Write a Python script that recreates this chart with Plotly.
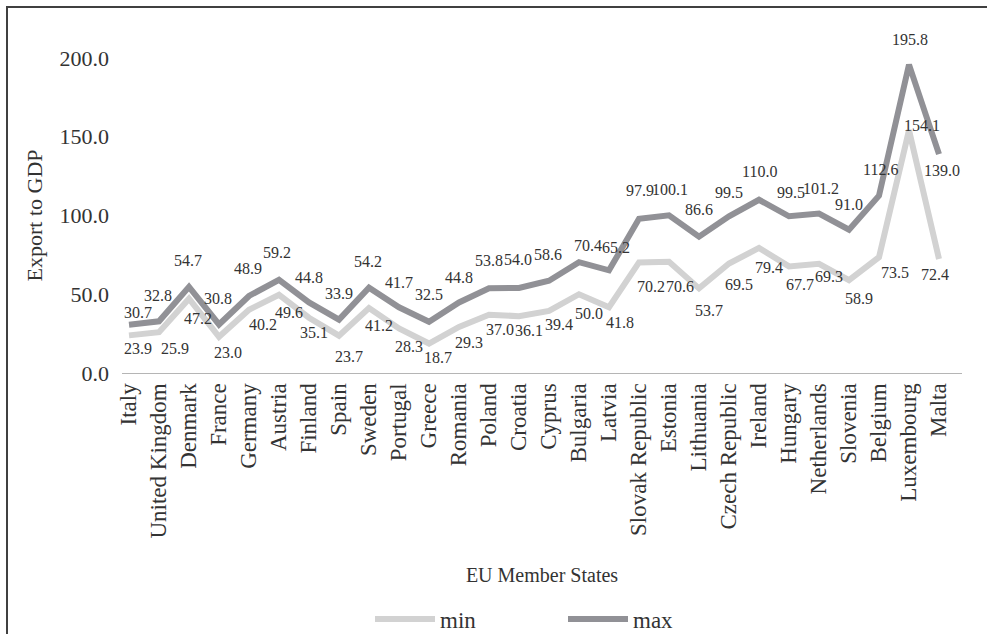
import plotly.graph_objects as go

countries = ["Italy", "United Kingdom", "Denmark", "France", "Germany", "Austria",
             "Finland", "Spain", "Sweden", "Portugal", "Greece", "Romania", "Poland",
             "Croatia", "Cyprus", "Bulgaria", "Latvia", "Slovak Republic", "Estonia",
             "Lithuania", "Czech Republic", "Ireland", "Hungary", "Netherlands",
             "Slovenia", "Belgium", "Luxembourg", "Malta"]
min_vals = [23.9, 25.9, 47.2, 23.0, 40.2, 49.6, 35.1, 23.7, 41.2, 28.3, 18.7, 29.3, 37.0,
            36.1, 39.4, 50.0, 41.8, 70.2, 70.6, 53.7, 69.5, 79.4, 67.7, 69.3, 58.9, 73.5,
            154.1, 72.4]
max_vals = [30.7, 32.8, 54.7, 30.8, 48.9, 59.2, 44.8, 33.9, 54.2, 41.7, 32.5, 44.8, 53.8,
            54.0, 58.6, 70.4, 65.2, 97.9, 100.1, 86.6, 99.5, 110.0, 99.5, 101.2, 91.0, 112.6,
            195.8, 139.0]
y_ticks = [0, 50, 100, 150, 200]

# label offsets in pixels (dx right, dy down) - styling only
min_off = [(9, 13), (16, 16), (9, 20), (9, 16), (14, 15), (10, 18), (5, 15), (10, 21),
           (10, 17), (10, 18), (9, 14), (10, 16), (11, 15), (10, 14), (10, 14), (10, 19),
           (11, 15), (12, 24), (11, 25), (10, 22), (10, 21), (10, 20), (11, 18), (10, 13),
           (10, 18), (16, 15), (13, -5), (-4, 16)]
max_off = [(9, -12), (-1, -26), (-1, -26), (-1, -26), (-1, -27), (-2, -27), (0, -25),
           (0, -26), (-1, -26), (0, -25), (0, -27), (0, -25), (0, -28), (-1, -28), (-1, -26),
           (9, -17), (7, -23), (1, -28), (1, -26), (0, -27), (0, -24), (0, -28), (2, -24),
           (2, -25), (0, -25), (1, -26), (1, -25), (3, 16)]

FONT = "Liberation Serif, Times New Roman, serif"
TXT = "#333333"
MIN_C = "#d2d2d2"
MAX_C = "#919196"

fig = go.Figure()
fig.add_trace(go.Scatter(x=countries, y=min_vals, name="min", mode="lines",
                         line=dict(color=MIN_C, width=6), cliponaxis=False))
fig.add_trace(go.Scatter(x=countries, y=max_vals, name="max", mode="lines",
                         line=dict(color=MAX_C, width=6), cliponaxis=False))

annots = []
for vals, offs in ((min_vals, min_off), (max_vals, max_off)):
    for c, v, (dx, dy) in zip(countries, vals, offs):
        annots.append(dict(x=c, y=v, text=f"{v:.1f}", showarrow=False,
                           xshift=dx, yshift=-dy,
                           font=dict(family=FONT, size=16, color=TXT)))

fig.update_layout(
    width=987, height=634, autosize=False,
    margin=dict(l=122, r=25, t=58, b=261, autoexpand=False),
    paper_bgcolor="white", plot_bgcolor="white",
    font=dict(family=FONT, color=TXT),
    annotations=annots,
    showlegend=True,
    legend=dict(orientation="h", x=(370 - 122) / 840, xanchor="left",
                y=(373 - 619) / 315, yanchor="middle",
                font=dict(family=FONT, size=23, color=TXT),
                itemwidth=60, entrywidth=118, bgcolor="rgba(0,0,0,0)"),
    xaxis=dict(type="category", showgrid=False, zeroline=False,
               showline=True, linecolor="#b5b5b5", linewidth=1.2,
               ticks="", tickangle=-90, tickfont=dict(family=FONT, size=23, color=TXT),
               title=dict(text="EU Member States", standoff=30,
                          font=dict(family=FONT, size=20, color=TXT))),
    yaxis=dict(range=[0, 200], tickvals=y_ticks, tickformat=".1f",
               showgrid=False, zeroline=False, showline=False, ticks="",
               ticklabelstandoff=12,
               tickfont=dict(family=FONT, size=22, color=TXT),
               title=dict(text="Export to GDP", standoff=10,
                          font=dict(family=FONT, size=22, color=TXT))),
    shapes=[dict(type="rect", xref="paper", yref="paper",
                 x0=(7 - 122) / 840, x1=1.1, y0=-0.9, y1=(373 - 7) / 315,
                 line=dict(color="#404040", width=2), fillcolor="rgba(0,0,0,0)")],
)

fig.write_html("out.html", config={"displayModeBar": False},
               post_script="document.body.style.margin='0px';")
